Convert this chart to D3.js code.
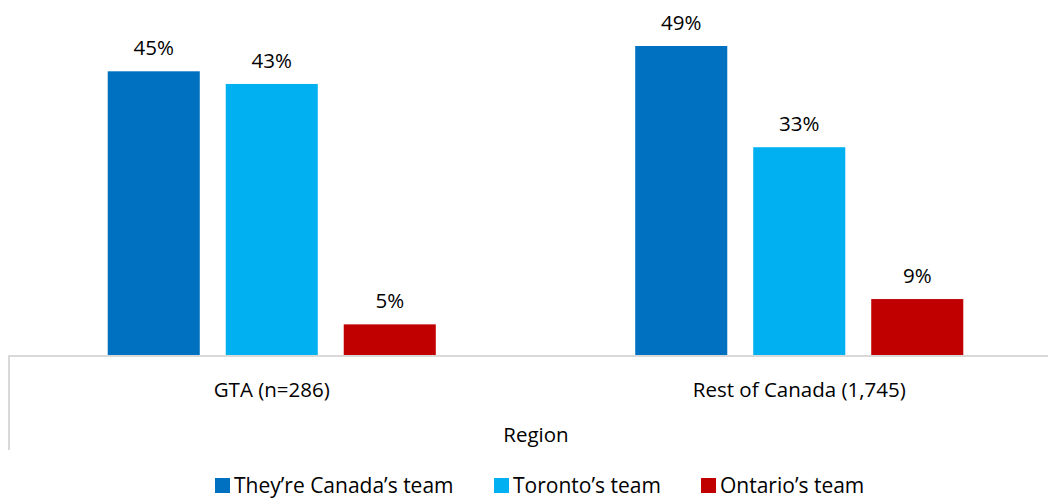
<!DOCTYPE html>
<html>
<head>
<meta charset="utf-8">
<script src="https://cdn.jsdelivr.net/npm/d3@7"></script>
<style>
  body { margin: 0; background: #fff; }
  text { font-family: "Open Sans", sans-serif; fill: #000; }
</style>
</head>
<body>
<div id="chart"></div>
<script>
var regions = ["GTA (n=286)", "Rest of Canada (1,745)"];
var seriesNames = ["They\u2019re Canada\u2019s team", "Toronto\u2019s team", "Ontario\u2019s team"];
var canadaTeam = [45, 49];
var torontoTeam = [43, 33];
var ontarioTeam = [5, 9];
var colors = ["#0070C0", "#00B0F0", "#C00000"];

var width = 1048, height = 499;
var baseY = 356;

var svg = d3.select("#chart").append("svg")
  .attr("width", width)
  .attr("height", height);

var rows = regions.map(function(r, i) {
  return { region: r, values: [canadaTeam[i], torontoTeam[i], ontarioTeam[i]] };
});

// plot area runs a bit past the right edge, like the original
var x0 = d3.scaleBand().domain(regions).range([8, 1063]);
var x1 = d3.scaleBand().domain(d3.range(seriesNames.length))
  .range([0, x0.bandwidth()]).paddingInner(0.22).paddingOuter(0.845);
var y = d3.scaleLinear().domain([0, 49]).range([baseY, 46]);

var groups = svg.selectAll(".grp")
  .data(rows)
  .enter().append("g")
  .attr("class", "grp")
  .attr("transform", function(d) { return "translate(" + x0(d.region) + ",0)"; });

groups.selectAll("rect")
  .data(function(d) { return d.values; })
  .enter().append("rect")
  .attr("x", function(d, i) { return x1(i); })
  .attr("y", function(d) { return y(d); })
  .attr("width", x1.bandwidth())
  .attr("height", function(d) { return baseY - y(d); })
  .attr("fill", function(d, i) { return colors[i]; });

groups.selectAll(".lbl")
  .data(function(d) { return d.values; })
  .enter().append("text")
  .attr("class", "lbl")
  .attr("x", function(d, i) { return x1(i) + x1.bandwidth() / 2; })
  .attr("y", function(d) { return y(d) - 16; })
  .attr("text-anchor", "middle")
  .style("font-size", "20.5px")
  .text(function(d) { return d + "%"; });

// axis line + left edge
svg.append("line")
  .attr("x1", 8).attr("x2", width).attr("y1", baseY).attr("y2", baseY)
  .attr("stroke", "#d9d9d9").attr("stroke-width", 2);
svg.append("line")
  .attr("x1", 9).attr("x2", 9).attr("y1", baseY).attr("y2", 450)
  .attr("stroke", "#d9d9d9").attr("stroke-width", 2);

svg.selectAll(".cat")
  .data(regions)
  .enter().append("text")
  .attr("class", "cat")
  .attr("x", function(d) { return x0(d) + x0.bandwidth() / 2; })
  .attr("y", 397)
  .attr("text-anchor", "middle")
  .style("font-size", "20.5px")
  .text(function(d) { return d; });

svg.append("text")
  .attr("x", 536).attr("y", 442)
  .attr("text-anchor", "middle")
  .style("font-size", "20.5px")
  .text("Region");

// legend
var legendX = [215, 494, 701];
var leg = svg.selectAll(".leg")
  .data(seriesNames)
  .enter().append("g")
  .attr("class", "leg")
  .attr("transform", function(d, i) { return "translate(" + legendX[i] + ",478)"; });
leg.append("rect")
  .attr("width", 15).attr("height", 15)
  .attr("fill", function(d, i) { return colors[i]; });
leg.append("text")
  .attr("x", 19).attr("y", 15)
  .style("font-size", "21px")
  .text(function(d) { return d; });
</script>
</body>
</html>
